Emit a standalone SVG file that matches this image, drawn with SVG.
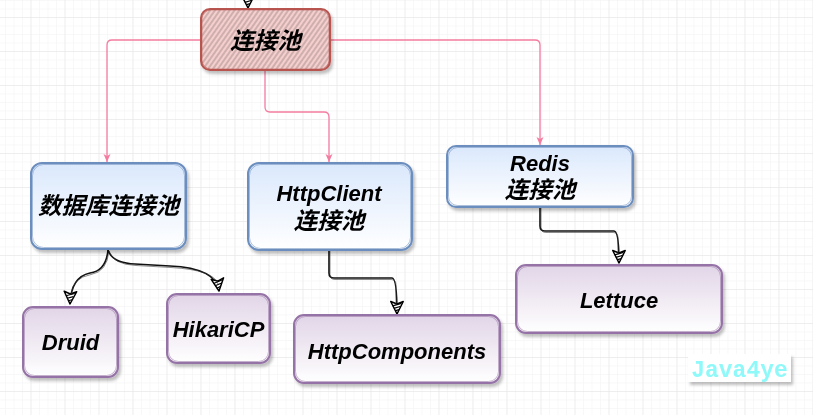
<svg xmlns="http://www.w3.org/2000/svg" width="813" height="415" viewBox="0 0 813 415">
<defs>
<style>
.lbl{font-family:"Liberation Sans","Noto Sans CJK SC",sans-serif;font-style:italic;font-weight:bold;font-size:22px;fill:#000;text-anchor:middle}
.cjk{font-size:23.5px}
.blue{fill:url(#gBlue);stroke:#6c8ebf;stroke-width:2}
.purp{fill:url(#gPurp);stroke:#9673a6;stroke-width:2}
.sk{fill:none;stroke-width:0.8;opacity:0.7}
.pink{fill:none;stroke:#f47ca0;stroke-width:1.3}
.blk{fill:none;stroke:#111;stroke-width:1.6;marker-end:url(#aBlk)}
.blk2{fill:none;stroke:#333;stroke-width:0.7;opacity:0.8}
</style>
<pattern id="minor" patternUnits="userSpaceOnUse" x="30.5" y="17" width="8.5" height="8.5">
<path d="M0,0 H8.5 M0,0 V8.5" stroke="#f2f2f2" stroke-width="1" fill="none"/>
</pattern>
<pattern id="major" patternUnits="userSpaceOnUse" x="30.5" y="17" width="34" height="34">
<path d="M0,0 H34 M0,0 V34" stroke="#e3e3e3" stroke-width="1" fill="none"/>
</pattern>
<pattern id="hatch" patternUnits="userSpaceOnUse" width="4" height="4" patternTransform="rotate(-55)">
<rect width="4" height="4" fill="#f4cfcd"/>
<path d="M0,2 H4" stroke="#b09595" stroke-width="1.1"/>
</pattern>
<linearGradient id="gBlue" x1="0" y1="0" x2="0" y2="1">
<stop offset="0" stop-color="#dae8fc"/><stop offset="1" stop-color="#ffffff"/>
</linearGradient>
<linearGradient id="gPurp" x1="0" y1="0" x2="0" y2="1">
<stop offset="0" stop-color="#e1d5e7"/><stop offset="1" stop-color="#ffffff"/>
</linearGradient>
<filter id="sh" x="-10%" y="-10%" width="130%" height="140%">
<feDropShadow dx="2" dy="3" stdDeviation="1.5" flood-color="#000" flood-opacity="0.25"/>
</filter>
<marker id="aBlk" viewBox="0 0 12 12" refX="11" refY="6" markerWidth="15" markerHeight="15" markerUnits="userSpaceOnUse" orient="auto">
<path d="M1,1 L11,6 L1,11 L3,6 Z" fill="#fff" stroke="#000" stroke-width="1.2" stroke-linejoin="round"/>
<path d="M2.5,2.5 L4.5,9.5 M5,3.5 L6.5,8.5 M7.5,4.5 L8.5,7.5" stroke="#000" stroke-width="0.9"/>
</marker>
<marker id="aPink" viewBox="0 0 8 8" refX="8" refY="4" markerWidth="8" markerHeight="8" markerUnits="userSpaceOnUse" orient="auto">
<path d="M0,0.5 L8,4 L0,7.5 L2,4 Z" fill="#f47ca0"/>
</marker>
</defs>

<rect width="813" height="415" fill="#ffffff"/>
<rect width="813" height="415" fill="url(#minor)"/>
<rect width="813" height="415" fill="url(#major)"/>

<g id="connectors">
<path class="pink" d="M201,40 L112,40 Q107,40 107,45 L107,162" marker-end="url(#aPink)"/>
<path class="pink" d="M265,70 L265,107 Q265,112 270,112 L324,112 Q329,112 329,117 L329,162" marker-end="url(#aPink)"/>
<path class="pink" d="M330,40 L535,40 Q540,40 540,45 L540,145" marker-end="url(#aPink)"/>
<path class="blk" d="M248,-10 L248,8"/>
<path class="blk" d="M108,250 Q106,271 90,273 Q71,277 70,304"/>
<path class="blk2" d="M109,251 Q107,272 91,274.5 Q72,278 71,295"/>
<path class="blk" d="M108,250 Q112,263 135,264 L170,266 Q216,268 219,291"/>
<path class="blk2" d="M109,251 Q113,264.5 136,265.5 L171,267.5 Q214,270 218,284"/>
<path class="blk" d="M329,250 L329,273 Q329,278 334,278 L392,278 Q397,278 397,314"/>
<path class="blk2" d="M330,251 L330,274 Q330,279.5 335,279.5 L391,279.5 Q396,279.5 396,285 L396,305"/>
<path class="blk" d="M540,207 L540,226 Q540,231 545,231 L614,231 Q619,231 619,263"/>
<path class="blk2" d="M541,208 L541,227 Q541,232.5 546,232.5 L613,232.5 Q618,232.5 618,238 L618,255"/>
</g>

<g id="node-pool" filter="url(#sh)">
<rect x="201" y="9" width="129" height="61" rx="9" fill="url(#hatch)" stroke="#b85450" stroke-width="2"/>
<rect x="202" y="10" width="127" height="59" rx="9" class="sk" stroke="#b85450"/>
<text class="lbl cjk" x="265.5" y="49">连接池</text>
</g>

<g id="node-db" filter="url(#sh)">
<rect x="31" y="163" width="155" height="86" rx="11" class="blue"/>
<rect x="32.5" y="164.5" width="152" height="83" rx="11" class="sk" stroke="#6c8ebf"/>
<text class="lbl cjk" x="108.5" y="214">数据库连接池</text>
</g>

<g id="node-http" filter="url(#sh)">
<rect x="248" y="163" width="164" height="87" rx="11" class="blue"/>
<rect x="249.5" y="164.5" width="161" height="84" rx="11" class="sk" stroke="#6c8ebf"/>
<text class="lbl" x="329" y="201">HttpClient</text>
<text class="lbl cjk" x="329" y="229">连接池</text>
</g>

<g id="node-redis" filter="url(#sh)">
<rect x="447" y="146" width="186" height="61" rx="9" class="blue"/>
<rect x="448.5" y="147.5" width="183" height="58" rx="9" class="sk" stroke="#6c8ebf"/>
<text class="lbl" x="540" y="171">Redis</text>
<text class="lbl cjk" x="540" y="198">连接池</text>
</g>

<g id="node-druid" filter="url(#sh)">
<rect x="23" y="307" width="95" height="70" rx="10" class="purp"/>
<rect x="24.5" y="308.5" width="92" height="67" rx="10" class="sk" stroke="#9673a6"/>
<text class="lbl" x="70.5" y="350">Druid</text>
</g>

<g id="node-hikari" filter="url(#sh)">
<rect x="167" y="294" width="103" height="69" rx="10" class="purp"/>
<rect x="168.5" y="295.5" width="100" height="66" rx="10" class="sk" stroke="#9673a6"/>
<text class="lbl" x="218.5" y="337">HikariCP</text>
</g>

<g id="node-httpcomp" filter="url(#sh)">
<rect x="294" y="315" width="206" height="68" rx="10" class="purp"/>
<rect x="295.5" y="316.5" width="203" height="65" rx="10" class="sk" stroke="#9673a6"/>
<text class="lbl" x="397" y="359">HttpComponents</text>
</g>

<g id="node-lettuce" filter="url(#sh)">
<rect x="516" y="265" width="206" height="68" rx="10" class="purp"/>
<rect x="517.5" y="266.5" width="203" height="65" rx="10" class="sk" stroke="#9673a6"/>
<text class="lbl" x="619" y="308">Lettuce</text>
</g>

<g id="watermark" filter="url(#sh)">
<rect x="688" y="354" width="103" height="28" fill="#ffffff"/>
<text x="739.5" y="377" font-family="Liberation Mono, monospace" font-weight="bold" font-size="23" fill="#8ff8f8" text-anchor="middle">Java4ye</text>
</g>
</svg>
